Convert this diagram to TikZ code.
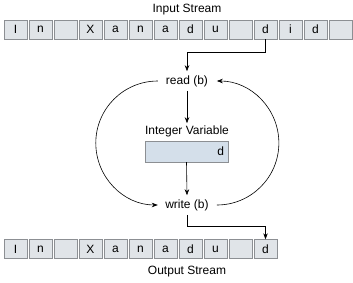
\documentclass[tikz,border=0pt]{standalone}
\usepackage{fontspec}
\setmainfont{Liberation Sans}
\usepackage{xcolor}
\usetikzlibrary{arrows.meta}

\definecolor{cellfill}{RGB}{224,228,232}
\definecolor{cellline}{RGB}{140,143,147}
\definecolor{varfill}{RGB}{212,223,234}

\tikzset{
    lbl/.style={font=\fontsize{12}{14}\selectfont, inner sep=2pt},
    cell/.style={lbl, draw=cellline, fill=cellfill, minimum width=23.5pt, minimum height=19pt, inner sep=0pt},
    op/.style={lbl, inner xsep=8pt, inner ysep=4pt},
    arr/.style={-{Stealth[length=6pt, width=4.5pt]}, semithick}
}

\begin{document}
\begin{tikzpicture}[x=1pt, y=-1pt]
    \useasboundingbox (0,0) rectangle (353,282);

    % Input stream
    \node[lbl] (intitle) at (187,10) {Input Stream};
    \foreach \c [count=\i from 0] in {I,n,{},X,a,n,a,d,u,{},d,i,d,{}}
        \node[cell] (in\i) at (15.5+25*\i,29.5) {\c};

    % read / variable / write
    \node[op] (read) at (187,81) {read (b)};
    \node[lbl] (vartitle) at (187,131) {Integer Variable};
    \node[lbl, draw=cellline, fill=varfill, minimum width=83pt, minimum height=21pt,
          text width=75pt, align=right] (var) at (186.5,151.5) {d};
    \node[op] (write) at (187,205) {write (b)};

    % Output stream
    \foreach \c [count=\i from 0] in {I,n,{},X,a,n,a,d,u,{},d}
        \node[cell] (out\i) at (15.5+25*\i,249) {\c};
    \node[lbl] (outtitle) at (187,272) {Output Stream};

    % connectors
    \draw[arr] (in10.south) -- (in10.south |- 0,52) -| (read.north);
    \draw[arr] (read.south) -- (vartitle.north);
    \draw[arr] (var.south) -- (write.north);
    \draw[arr] (write.south) -- (write.south |- 0,226) -| (out10.north);

    % loop (half circles, y axis points down)
    \draw[arr] (read.west) arc[start angle=270, end angle=90, radius=62];
    \draw[arr] (write.east) arc[start angle=90, end angle=-90, radius=62];
\end{tikzpicture}
\end{document}
